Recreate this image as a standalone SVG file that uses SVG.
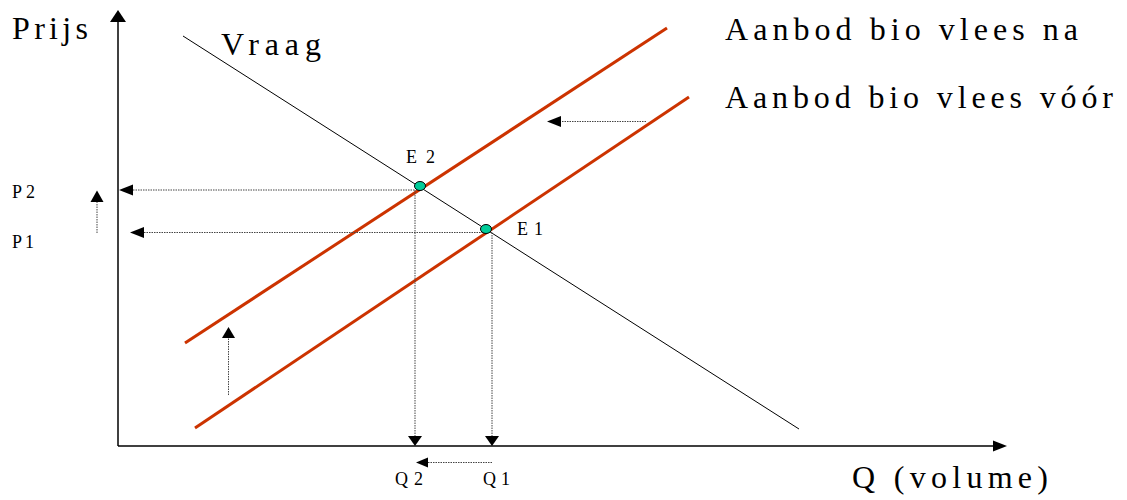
<svg xmlns="http://www.w3.org/2000/svg" width="1127" height="500" viewBox="0 0 1127 500" font-family="Liberation Serif, serif">
<defs>
<style>
text{fill:#000}
.big{font-size:32px}
.small{font-size:18px}
.axis{stroke:#000;stroke-width:1.5;fill:none}
.dem{stroke:#000;stroke-width:1;fill:none}
.sup{stroke:#cc3300;stroke-width:3;fill:none}
.dot{stroke:#444;stroke-width:1;stroke-dasharray:1.5 1;fill:none}
.head{fill:#000}
.pt{fill:#00cc99;stroke:#000;stroke-width:1}
</style>
</defs>
<rect width="1127" height="500" fill="#fff"/>
<g id="axes">
<line class="axis" x1="118" y1="446" x2="118" y2="20"/>
<polygon class="head" points="118,10 110,22 126,22"/>
<line class="axis" x1="118" y1="446" x2="995" y2="446"/>
<polygon class="head" points="1007,446 993,440.5 993,451.5"/>
</g>
<g id="curves">
<line id="vraag-line" class="dem" x1="183" y1="36" x2="799" y2="429"/>
<line id="aanbod-na-line" class="sup" x1="185" y1="343" x2="667" y2="28"/>
<line id="aanbod-voor-line" class="sup" x1="195" y1="428" x2="689" y2="97"/>
</g>
<g id="connectors">
<line class="dot" x1="133" y1="190" x2="415" y2="190"/>
<polygon class="head" points="119,190 133,184.5 133,195.5"/>
<line class="dot" x1="144" y1="232.5" x2="492" y2="232.5"/>
<polygon class="head" points="130,232.5 144,227 144,238"/>
<line class="dot" x1="415" y1="190" x2="415" y2="436"/>
<polygon class="head" points="415,446 408,436 422,436"/>
<line class="dot" x1="492" y1="232.5" x2="492" y2="436"/>
<polygon class="head" points="492,446 485,436 499,436"/>
<line class="dot" x1="492" y1="462.5" x2="428" y2="462.5"/>
<polygon class="head" points="416,462.5 428,457.5 428,467.5"/>
<line class="dot" x1="97" y1="233" x2="97" y2="202"/>
<polygon class="head" points="97,190.5 90.5,202 103.5,202"/>
<line class="dot" x1="228.5" y1="395" x2="228.5" y2="338"/>
<polygon class="head" points="228.5,327 222,338 235,338"/>
<line class="dot" x1="646" y1="121.5" x2="561" y2="121.5"/>
<polygon class="head" points="547,121.5 561,116 561,127"/>
</g>
<g id="E2">
<ellipse class="pt" cx="420" cy="186" rx="5.5" ry="4.5"/>
<text class="small" x="406" y="163" textLength="29" lengthAdjust="spacing">E2</text>
</g>
<g id="E1">
<ellipse class="pt" cx="486" cy="229" rx="5.5" ry="4.5"/>
<text class="small" x="517" y="235" textLength="26" lengthAdjust="spacing">E1</text>
</g>
<g id="labels">
<text class="big" x="12" y="39" textLength="76" lengthAdjust="spacing">Prijs</text>
<text class="big" x="221" y="55" textLength="100" lengthAdjust="spacing">Vraag</text>
<text class="big" x="725" y="40" textLength="353" lengthAdjust="spacing">Aanbod bio vlees na</text>
<text class="big" x="725" y="108" textLength="388" lengthAdjust="spacing">Aanbod bio vlees vóór</text>
<text class="big" x="852" y="488" textLength="196" lengthAdjust="spacing">Q (volume)</text>
<text class="small" x="12" y="198" textLength="23" lengthAdjust="spacing">P2</text>
<text class="small" x="12" y="248" textLength="22" lengthAdjust="spacing">P1</text>
<text class="small" x="395" y="485" textLength="28" lengthAdjust="spacing">Q2</text>
<text class="small" x="483" y="485" textLength="27" lengthAdjust="spacing">Q1</text>
</g>
</svg>
